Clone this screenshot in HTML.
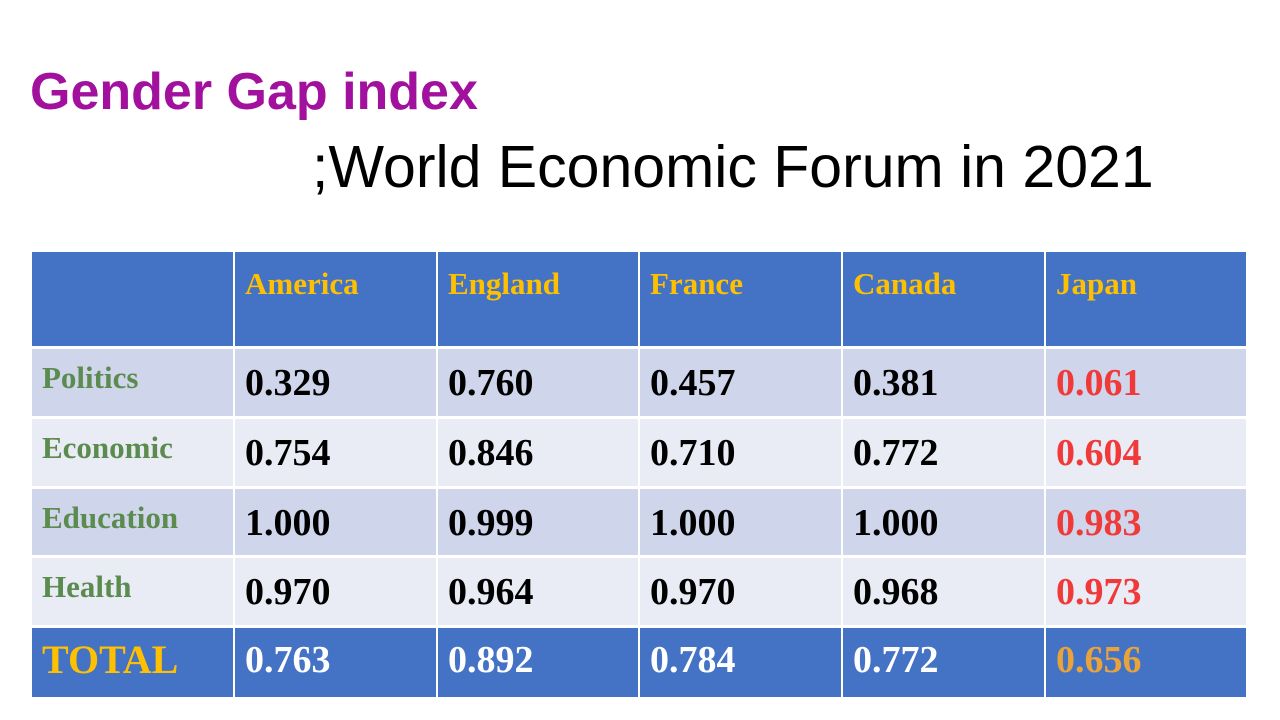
<!DOCTYPE html>
<html><head><meta charset="utf-8"><style>
body{margin:0;width:1280px;height:720px;background:#fff;position:relative;overflow:hidden;font-family:"Liberation Sans",sans-serif}
.t1{position:absolute;left:30px;top:62px;font-size:52px;font-weight:bold;color:#A2109E;line-height:60px}
.t2{position:absolute;left:312px;top:134px;font-size:59px;color:#000;line-height:66px}
.c{position:absolute;box-sizing:border-box;font-family:"Liberation Serif",serif;font-weight:bold;padding-left:10px}
</style></head><body>
<div class="t1">Gender Gap index</div>
<div class="t2">;World Economic Forum in 2021</div>
<div id="tbl"></div>
<script>
const countries=["America","England","France","Canada","Japan"];
const categories=["Politics","Economic","Education","Health"];
const values=[["0.329","0.760","0.457","0.381","0.061"],["0.754","0.846","0.710","0.772","0.604"],["1.000","0.999","1.000","1.000","0.983"],["0.970","0.964","0.970","0.968","0.973"]];
const totals=["0.763","0.892","0.784","0.772","0.656"];
const colX=[32,235,438,640,843,1046,1248];
const rowY=[252,349,419,489,558,628,700];
const tbl=document.getElementById('tbl');
function cell(r,c,txt,bg,color,size,pt,name){
  const d=document.createElement('div');d.className='c';
  
  
  d.style.left=colX[c]+'px';d.style.top=rowY[r]+'px';
  d.style.width=(colX[c+1]-colX[c])+'px';d.style.height=(rowY[r+1]-rowY[r])+'px';
  d.style.background=bg;d.style.color=color;d.style.fontSize=size+'px';d.style.paddingTop=pt+'px';
  d.style.borderRight='2px solid #fff';d.style.borderBottom='3px solid #fff';
  d.textContent=txt;tbl.appendChild(d);
}
cell(0,0,'','#4472C4','#FFC000',31,19,'header-corner');
countries.forEach((n,i)=>cell(0,i+1,n,'#4472C4','#FFC000',31,14,'header-'+n.toLowerCase()));
categories.forEach((n,r)=>{
  const bg=r%2===0?'#CFD5EA':'#E9EBF5';
  cell(r+1,0,n,bg,'#5B8B4E',31,11,'row-label-'+n.toLowerCase());
  values[r].forEach((v,i)=>cell(r+1,i+1,v,bg,i===4?'#F03A3A':'#000',38,12,'value-'+n.toLowerCase()+'-'+countries[i].toLowerCase()));
});
cell(5,0,'TOTAL','#4472C4','#FFC000',40,8,'row-label-total');
totals.forEach((v,i)=>cell(5,i+1,v,'#4472C4',i===4?'#E8A33A':'#fff',38,10,'total-'+countries[i].toLowerCase()));
</script>
</body></html>
